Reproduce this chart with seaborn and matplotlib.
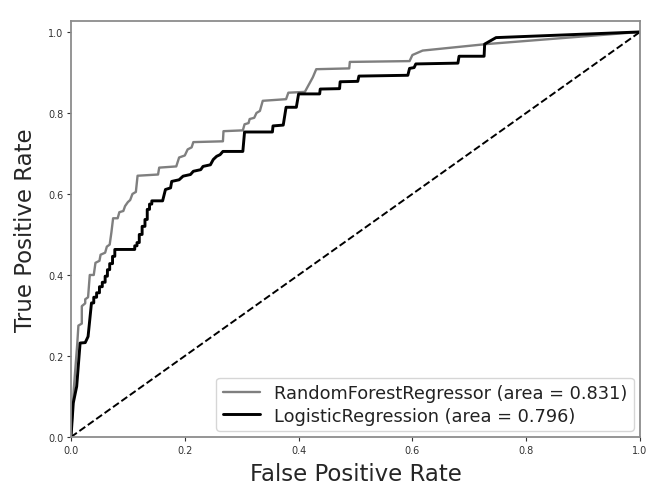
import numpy as np
import pandas as pd
import matplotlib
matplotlib.use('Agg')
import matplotlib.pyplot as plt
import seaborn as sns

# ROC points (fpr, tpr corners of the staircase)
rf_fpr = [0.000, 0.005, 0.011, 0.013, 0.019, 0.019, 0.025, 0.025, 0.030, 0.033,
          0.040, 0.043, 0.050, 0.052, 0.060, 0.063, 0.068, 0.071, 0.074, 0.082,
          0.085, 0.092, 0.095, 0.100, 0.104, 0.108, 0.114, 0.117, 0.153, 0.155,
          0.185, 0.190, 0.200, 0.205, 0.212, 0.215, 0.267, 0.268, 0.302, 0.305,
          0.312, 0.314, 0.322, 0.326, 0.332, 0.337, 0.378, 0.382, 0.411, 0.418,
          0.425, 0.431, 0.489, 0.490, 0.595, 0.600, 0.618, 0.730, 1.000]
rf_tpr = [0.000, 0.120, 0.230, 0.275, 0.280, 0.323, 0.330, 0.340, 0.345, 0.400,
          0.400, 0.430, 0.435, 0.450, 0.455, 0.470, 0.475, 0.505, 0.540, 0.540,
          0.555, 0.558, 0.570, 0.580, 0.585, 0.600, 0.605, 0.645, 0.648, 0.665,
          0.668, 0.690, 0.695, 0.710, 0.715, 0.728, 0.730, 0.755, 0.757, 0.772,
          0.775, 0.785, 0.788, 0.800, 0.805, 0.830, 0.834, 0.850, 0.852, 0.870,
          0.888, 0.908, 0.910, 0.926, 0.928, 0.943, 0.954, 0.970, 1.000]

lr_fpr = [0.000, 0.004, 0.010, 0.016, 0.025, 0.030, 0.036, 0.040, 0.040, 0.045,
          0.045, 0.050, 0.050, 0.055, 0.055, 0.060, 0.060, 0.064, 0.064, 0.068,
          0.068, 0.073, 0.073, 0.077, 0.077, 0.112, 0.112, 0.116, 0.116, 0.120,
          0.120, 0.125, 0.125, 0.130, 0.130, 0.134, 0.134, 0.138, 0.138, 0.142,
          0.142, 0.161, 0.166, 0.175, 0.177, 0.190, 0.197, 0.210, 0.215,
          0.228, 0.232, 0.245, 0.250, 0.256, 0.262, 0.267, 0.302, 0.305, 0.354,
          0.355, 0.373, 0.378, 0.396, 0.400, 0.437, 0.438, 0.472, 0.473, 0.504,
          0.506, 0.592, 0.595, 0.603, 0.606, 0.680, 0.682, 0.726, 0.727, 0.747,
          1.000]
lr_tpr = [0.000, 0.084, 0.125, 0.232, 0.233, 0.248, 0.331, 0.331, 0.345, 0.345,
          0.356, 0.356, 0.371, 0.371, 0.382, 0.382, 0.397, 0.397, 0.413, 0.413,
          0.428, 0.428, 0.446, 0.446, 0.463, 0.463, 0.472, 0.472, 0.480, 0.480,
          0.500, 0.500, 0.520, 0.520, 0.537, 0.537, 0.562, 0.562, 0.575, 0.575,
          0.583, 0.583, 0.611, 0.615, 0.631, 0.635, 0.644, 0.648, 0.656,
          0.660, 0.668, 0.672, 0.685, 0.693, 0.697, 0.705, 0.705, 0.753, 0.753,
          0.768, 0.770, 0.814, 0.814, 0.847, 0.847, 0.859, 0.860, 0.877, 0.878,
          0.891, 0.893, 0.910, 0.912, 0.921, 0.923, 0.940, 0.940, 0.970, 0.986,
          1.000]

rf_auc = 0.831
lr_auc = 0.796

sns.set_style('white')
plt.rcParams['font.family'] = ['DejaVu Sans']

fig = plt.figure(figsize=(6.46, 4.85), dpi=100)
ax = fig.add_axes([71 / 646, 47 / 485, 569 / 646, 416 / 485])

rf = pd.DataFrame({'fpr': rf_fpr, 'tpr': rf_tpr})
lr = pd.DataFrame({'fpr': lr_fpr, 'tpr': lr_tpr})

sns.lineplot(data=rf, x='fpr', y='tpr', sort=False, estimator=None, ax=ax,
             color='#7f7f7f', linewidth=1.7,
             label='RandomForestRegressor (area = %0.3f)' % rf_auc)
sns.lineplot(data=lr, x='fpr', y='tpr', sort=False, estimator=None, ax=ax,
             color='black', linewidth=2.1,
             label='LogisticRegression (area = %0.3f)' % lr_auc)
ax.plot([0, 1], [0, 1], color='black', linestyle='--', linewidth=1.4)

ax.set_xlim(0, 1.0)
ax.set_ylim(0, 1.027)
ax.set_xticks([0.0, 0.2, 0.4, 0.6, 0.8, 1.0])
ax.set_yticks([0.0, 0.2, 0.4, 0.6, 0.8, 1.0])
ax.tick_params(axis='both', labelsize=7, length=3, width=0.8, direction='out',
               bottom=True, left=True, colors='#333333', pad=2.5)
ax.set_xlabel('False Positive Rate', fontsize=16.5, labelpad=5)
ax.set_ylabel('True Positive Rate', fontsize=16.5, labelpad=8)
for s in ax.spines.values():
    s.set_color('#8c8c8c')
    s.set_linewidth(1.3)

leg = ax.legend(loc='lower right', fontsize=12.8, frameon=True, handlelength=2.1,
                borderpad=0.35, labelspacing=0.25, handletextpad=0.8,
                borderaxespad=0.35, fancybox=True)
leg.get_frame().set_edgecolor('#cccccc')
for t in leg.get_texts():
    t.set_color('#222222')

fig.savefig('out.png', dpi=100)
